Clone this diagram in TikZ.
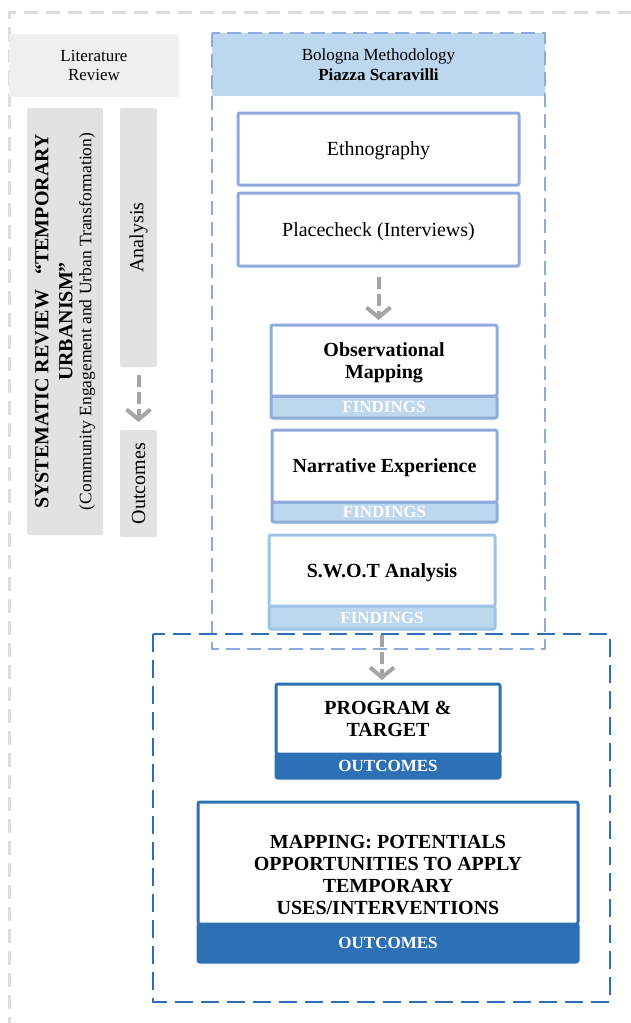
\documentclass[tikz,border=0pt]{standalone}
\usepackage{fontspec}
\setmainfont{Liberation Serif}
\usetikzlibrary{arrows.meta}
\definecolor{graydash}{HTML}{DDDDDD}
\definecolor{litfill}{HTML}{EFEFEF}
\definecolor{sysfill}{HTML}{E2E2E2}
\definecolor{bolfill}{HTML}{BDD7EE}
\definecolor{boldash}{HTML}{8EA9DB}
\definecolor{boxline}{HTML}{8FAADC}
\definecolor{swotline}{HTML}{9DC3E6}
\definecolor{bluedark}{HTML}{2E70B5}
\definecolor{arrowgray}{HTML}{A5A5A5}
\begin{document}
\begin{tikzpicture}[x=1pt,y=-1pt,
  every node/.style={inner sep=0pt, outer sep=0pt},
  nw/.style={anchor=north west},
  graybox/.style={nw, fill=sysfill, rounded corners=2pt, align=center},
  mainbox/.style={nw, draw=#1, line width=3pt, fill=white, rounded corners=2pt, align=center, text depth=0pt},
  bandbox/.style={nw, draw=#1, line width=3pt, fill=bolfill, rounded corners=2pt, text=white,
    font=\bfseries\fontsize{17}{19}\selectfont},
  outbox/.style={nw, draw=bluedark, line width=3pt, fill=bluedark, rounded corners=2pt, text=white,
    font=\bfseries\fontsize{17}{19}\selectfont},
  regtext/.style={font=\fontsize{20}{22}\selectfont},
  boldtext/.style={font=\bfseries\fontsize{20}{22}\selectfont},
  headtext/.style={font=\fontsize{17}{19.5}\selectfont},
  garrow/.style={draw=arrowgray, line width=4pt, dash pattern=on 12pt off 5pt,
    -{Straight Barb[length=10pt,width=24pt]}}
]
\useasboundingbox (0,0) rectangle (630,1023);

% outer gray frame
\draw[graydash, line width=3pt, dash pattern=on 14pt off 8pt] (632,12) -- (9,12) -- (9,1025);

% Literature review column
\node[nw, fill=litfill, minimum width=170pt, minimum height=63pt, align=center, headtext]
  (lit) at (9,34) {Literature\\Review};
\node[graybox, rotate=90, anchor=center, minimum width=427pt, minimum height=76pt,
  font=\bfseries\fontsize{20}{24}\selectfont]
  (sys) at (65,321.5) {SYSTEMATIC REVIEW \ \ ``TEMPORARY\\
  URBANISM''\\[-5pt]
  \mdseries\fontsize{17.5}{24}\selectfont (Community Engagement and Urban Transformation)};
\node[graybox, rotate=90, anchor=center, minimum width=259pt, minimum height=37pt, regtext]
  (ana) at (138.5,237.5) {Analysis};
\node[graybox, rotate=90, anchor=center, minimum width=107pt, minimum height=37pt, regtext]
  (out) at (138.5,483.5) {Outcomes};

% Bologna container
\node[nw, fill=bolfill, minimum width=333pt, minimum height=63pt, align=center, headtext]
  (bolhead) at (212,33) {Bologna Methodology\\\textbf{Piazza Scaravilli}};
\draw[boldash, line width=2.5pt, dash pattern=on 14pt off 7pt] (212,33) rectangle (545,649);

% blue container
\draw[bluedark, line width=2.5pt, dash pattern=on 18pt off 8pt] (153,634) rectangle (610,1002);

% Bologna boxes
\node[mainbox=boxline, minimum width=281pt, minimum height=72pt, regtext] (eth) at (238,113) {Ethnography};
\node[mainbox=boxline, minimum width=281pt, minimum height=73pt, regtext] (place) at (238,193) {Placecheck (Interviews)};

\node[bandbox=boxline, minimum width=226pt, minimum height=22pt] (obsband) at (271,396) {FINDINGS};
\node[mainbox=boxline, minimum width=226pt, minimum height=71pt, boldtext] (obs) at (271,325) {Observational\\Mapping};

\node[bandbox=boxline, minimum width=225pt, minimum height=20pt] (narband) at (272,502) {FINDINGS};
\node[mainbox=boxline, minimum width=225pt, minimum height=72pt, boldtext] (nar) at (272,430) {Narrative Experience};

\node[bandbox=swotline, minimum width=226pt, minimum height=23pt] (swotband) at (269,606) {FINDINGS};
\node[mainbox=swotline, minimum width=226pt, minimum height=71pt, boldtext] (swot) at (269,535) {S.W.O.T Analysis};

% outcome boxes
\node[outbox, minimum width=224pt, minimum height=24pt] (progband) at (276,754) {OUTCOMES};
\node[mainbox=bluedark, minimum width=224pt, minimum height=70pt, boldtext] (prog) at (276,684) {PROGRAM \&\\TARGET};

\node[outbox, minimum width=380pt, minimum height=38pt] (mapband) at (198,924) {OUTCOMES};
\node[mainbox=bluedark, minimum width=380pt, minimum height=122pt] (map) at (198,802) {};
\node[boldtext, align=center, text depth=0pt] (mapT) at (388,874.5)
  {MAPPING: POTENTIALS\\OPPORTUNITIES TO APPLY\\TEMPORARY\\USES/INTERVENTIONS};

% arrows
\draw[garrow, shorten <=8pt, shorten >=8pt] (ana.west) -- (out.east);
\draw[garrow, shorten <=11pt, shorten >=5pt] (place.south) -- (place.south |- obs.north);
\draw[garrow, shorten <=6pt, shorten >=4pt] (swotband.south) -- (swotband.south |- prog.north);
\end{tikzpicture}
\end{document}
